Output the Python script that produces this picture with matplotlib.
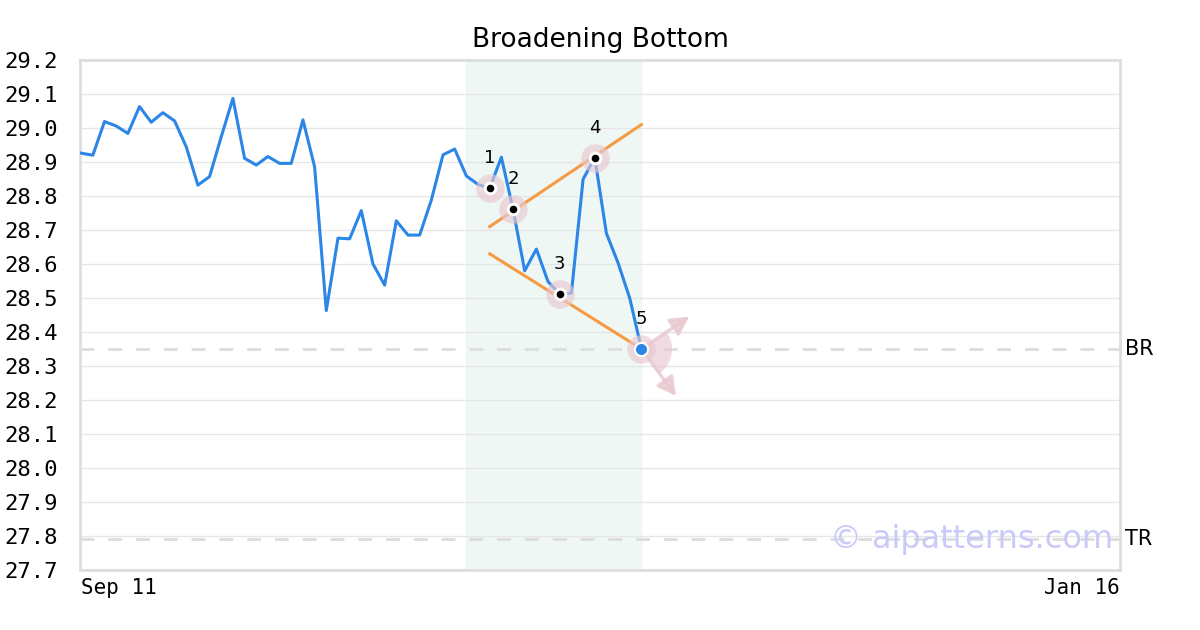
import numpy as np
import matplotlib.pyplot as plt
import matplotlib.transforms as mtransforms
from matplotlib.patches import FancyArrowPatch, Wedge

title = "Broadening Bottom"
prices = [28.926, 28.920, 29.019, 29.006, 28.984, 29.063, 29.017, 29.045, 29.021, 28.945,
          28.832, 28.857, 28.974, 29.087, 28.911, 28.891, 28.916, 28.896, 28.896, 29.024,
          28.886, 28.463, 28.676, 28.674, 28.757, 28.600, 28.538, 28.727, 28.685, 28.685,
          28.788, 28.921, 28.938, 28.859, 28.834, 28.823, 28.914, 28.761, 28.580, 28.644,
          28.548, 28.512, 28.514, 28.849, 28.913, 28.690, 28.603, 28.499, 28.350]
pivot_idx = [35, 37, 41, 44, 48]
pivot_labels = ["1", "2", "3", "4", "5"]
upper_line_x = [35, 48]
upper_line_y = [28.71, 29.01]
lower_line_x = [35, 48]
lower_line_y = [28.63, 28.35]
pattern_span = [33, 48]
br_level = 28.35
tr_level = 27.79
x_ticks = [0, 89]
x_labels = ["Sep 11", "Jan 16"]
y_ticks = np.round(np.arange(27.7, 29.21, 0.1), 1)

fig = plt.figure(figsize=(12, 6.3), dpi=100)
ax = fig.add_axes([80 / 1200, 1 - 570 / 630, 1040 / 1200, 510 / 630])
ax.set_xlim(-0.1, 89)
ax.set_ylim(27.7, 29.2)

ax.axvspan(pattern_span[0], pattern_span[1], color="#eef7f3", zorder=0)
for yv in y_ticks:
    ax.axhline(yv, color="#e6e6e6", lw=1, zorder=1)
ax.axhline(br_level, color="#dddddd", lw=2, ls=(0, (5, 5)), zorder=1)
ax.axhline(tr_level, color="#dddddd", lw=2, ls=(0, (5, 5)), zorder=1)

x = np.arange(len(prices))
ax.plot(x, prices, color="#2b86e8", lw=2.2, zorder=3)
ax.plot(upper_line_x, upper_line_y, color="#f59b45", lw=2.2, zorder=4)
ax.plot(lower_line_x, lower_line_y, color="#f59b45", lw=2.2, zorder=4)

px = list(pivot_idx)
py = [prices[i] for i in pivot_idx]
ax.scatter(px, py, s=420, color="#e8c8d0", alpha=0.65, lw=0, zorder=5)
ax.scatter(px[:4], py[:4], s=95, color="white", lw=0, zorder=6)
ax.scatter(px[:4], py[:4], s=30, color="black", lw=0, zorder=7)
ax.scatter(px[4], py[4], s=90, color="#2b86e8", edgecolor="white", lw=1.5, zorder=7)

# fan of possible breakout directions at point 5
fan = mtransforms.Affine2D().scale(fig.dpi / 72) + mtransforms.ScaledTranslation(px[4], py[4], ax.transData)
ax.add_patch(Wedge((0, 0), 22, -54, 34, transform=fan, color="#e8c8d0", alpha=0.65, lw=0, zorder=5))

for xi, yi, lab in zip(px, py, pivot_labels):
    ax.annotate(lab, (xi, yi), xytext=(0, 15), textcoords="offset points",
                ha="center", va="bottom", fontsize=13, zorder=8)

for dx, dy in [(4.3, 0.10), (3.1, -0.145)]:
    arr = FancyArrowPatch((px[4], py[4]), (px[4] + dx, py[4] + dy),
                          arrowstyle="-|>,head_length=11,head_width=6",
                          color="#e8c8d0", alpha=0.8, lw=2.5, zorder=4)
    ax.add_patch(arr)

ax.text(1.005, br_level, "BR", transform=ax.get_yaxis_transform(), va="center", fontsize=15)
ax.text(1.005, tr_level, "TR", transform=ax.get_yaxis_transform(), va="center", fontsize=15)
ax.text(0.993, tr_level, "© aipatterns.com", transform=ax.get_yaxis_transform(),
        ha="right", va="center", fontsize=23, color="#cacafa", zorder=9)

ax.set_yticks(y_ticks)
ax.set_yticklabels([f"{v:.1f}" for v in y_ticks], family="DejaVu Sans Mono", fontsize=16)
ax.set_xticks(x_ticks)
xl = ax.set_xticklabels(x_labels, family="DejaVu Sans Mono", fontsize=15)
xl[0].set_ha("left")
xl[1].set_ha("right")
ax.tick_params(axis="x", length=0, pad=6)
ax.tick_params(axis="y", length=0, pad=16)
for s in ax.spines.values():
    s.set_color("#dddddd")
    s.set_linewidth(2)
fig.text(0.5, 1 - 40 / 630, title, ha="center", va="center", fontsize=19)

fig.savefig("out.png", dpi=100)
